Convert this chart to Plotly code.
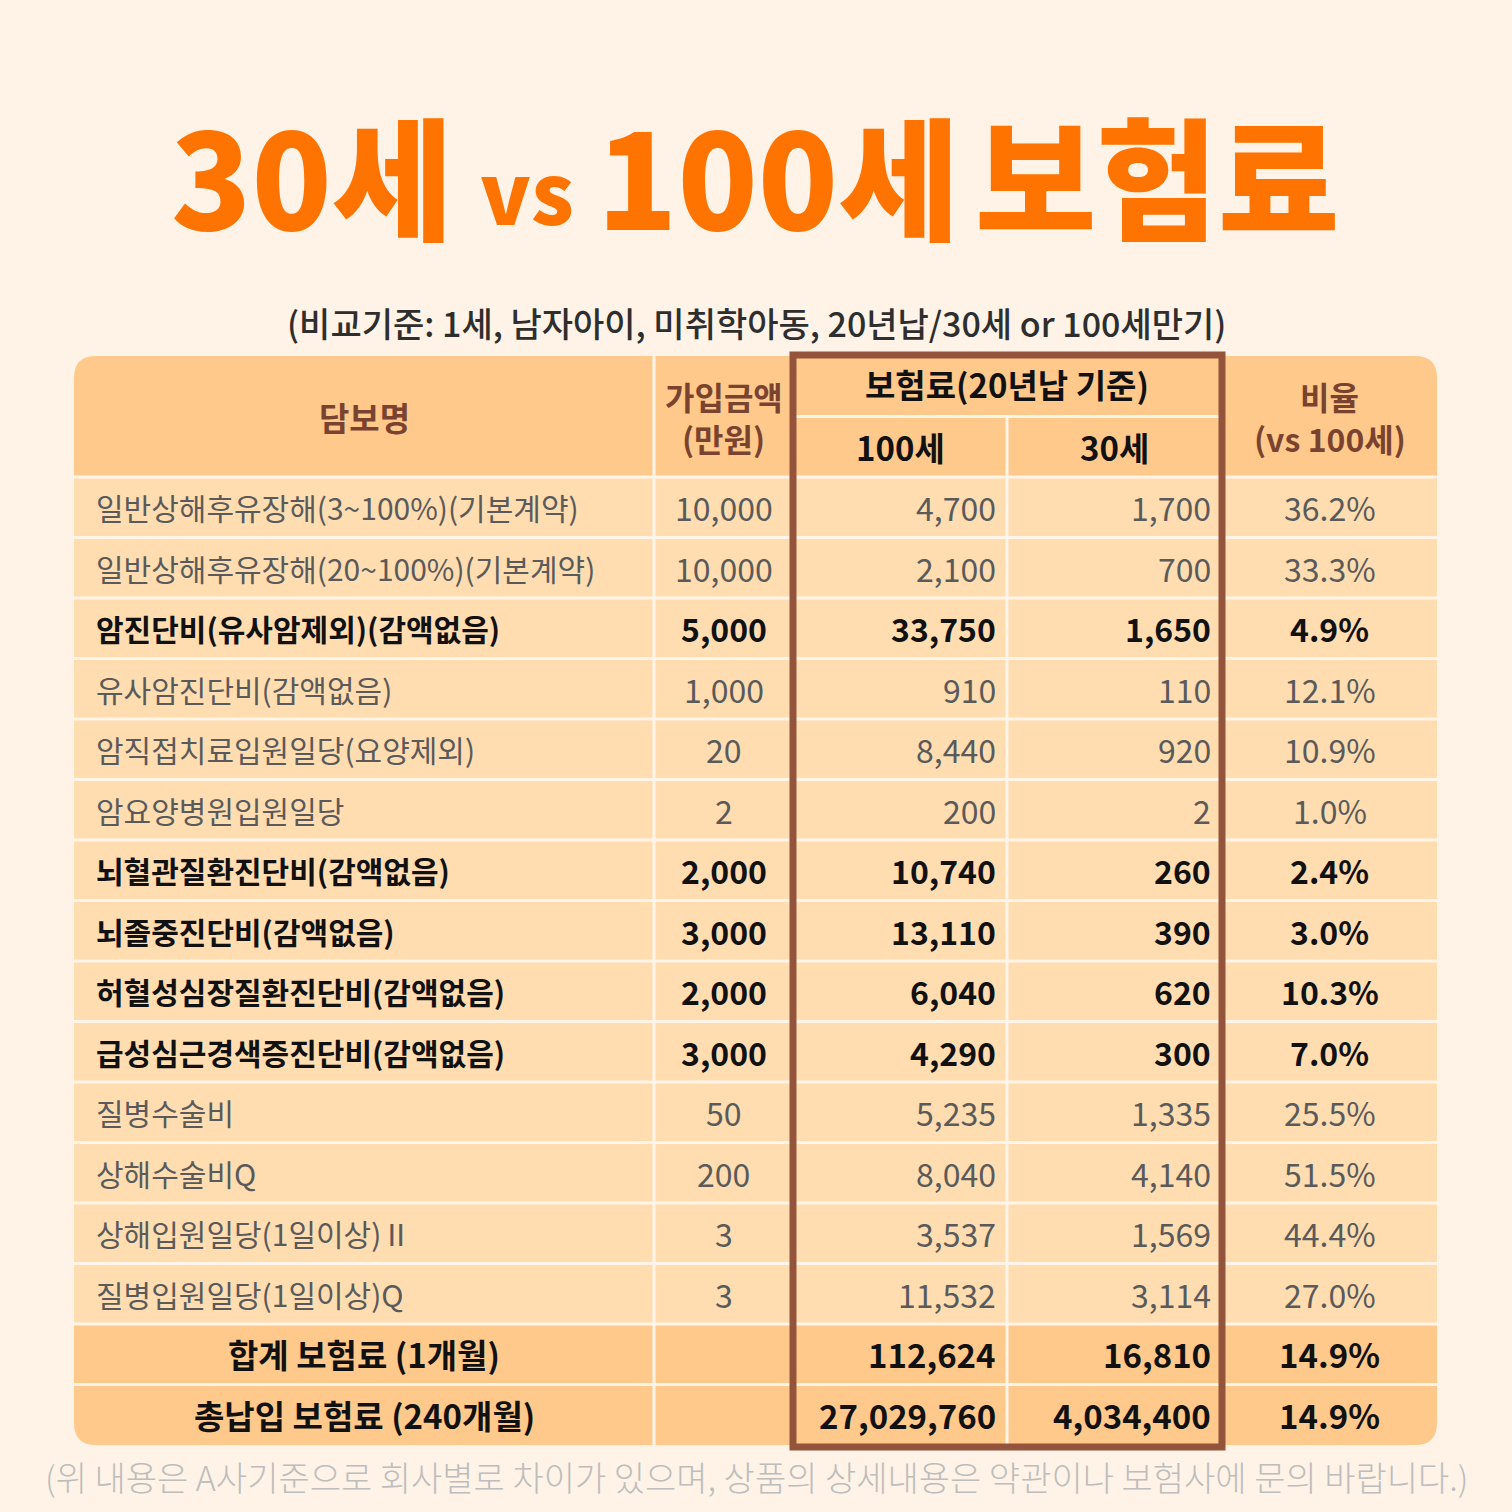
import plotly.graph_objects as go

# ---------------- data ----------------
title_parts = ["30세", "vs", "100세", "보험료"]
subtitle = "(비교기준: 1세, 남자아이, 미취학아동, 20년납/30세 or 100세만기)"
footnote = "(위 내용은 A사기준으로 회사별로 차이가 있으며, 상품의 상세내용은 약관이나 보험사에 문의 바랍니다.)"

col_headers = [["담보명"], ["가입금액", "(만원)"], ["보험료(20년납 기준)"], ["비율", "(vs 100세)"]]
sub_headers = ["100세", "30세"]

coverage_names = [
    "일반상해후유장해(3~100%)(기본계약)",
    "일반상해후유장해(20~100%)(기본계약)",
    "암진단비(유사암제외)(감액없음)",
    "유사암진단비(감액없음)",
    "암직접치료입원일당(요양제외)",
    "암요양병원입원일당",
    "뇌혈관질환진단비(감액없음)",
    "뇌졸중진단비(감액없음)",
    "허혈성심장질환진단비(감액없음)",
    "급성심근경색증진단비(감액없음)",
    "질병수술비",
    "상해수술비Q",
    "상해입원일당(1일이상)Ⅱ",
    "질병입원일당(1일이상)Q",
]
sum_insured = [10000, 10000, 5000, 1000, 20, 2, 2000, 3000, 2000, 3000, 50, 200, 3, 3]
premium_100 = [4700, 2100, 33750, 910, 8440, 200, 10740, 13110, 6040, 4290, 5235, 8040, 3537, 11532]
premium_30 = [1700, 700, 1650, 110, 920, 2, 260, 390, 620, 300, 1335, 4140, 1569, 3114]
ratio_pct = [36.2, 33.3, 4.9, 12.1, 10.9, 1.0, 2.4, 3.0, 10.3, 7.0, 25.5, 51.5, 44.4, 27.0]
emphasized_rows = [2, 6, 7, 8, 9]

total_labels = ["합계 보험료 (1개월)", "총납입 보험료 (240개월)"]
total_100 = [112624, 27029760]
total_30 = [16810, 4034400]
total_ratio = [14.9, 14.9]

# ---------------- geometry / style ----------------
BG = "#FEF3E6"
HEAD = "#FFC98B"
BODY = "#FFDDB1"
GRID = "#FFF4E8"
BROWN = "#94543B"
ORANGE = "#FF7300"
FONT = "Noto Sans CJK KR"

col_edges = [74, 654, 793, 1007, 1222, 1437]
top = 356
n_body = len(coverage_names)
n_total = len(total_labels)
bottom = 1445
row_h = (bottom - top) / (n_body + n_total + 2)
head_bot = top + 2 * row_h

def row_y(i):
    return head_bot + row_h * i

fig = go.Figure()
shapes = []
ann = []

# rounded table background
r = 22
x0, x1, y0, y1 = col_edges[0], col_edges[-1], top, bottom
path = (f"M {x0+r},{y0} L {x1-r},{y0} Q {x1},{y0} {x1},{y0+r} "
        f"L {x1},{y1-r} Q {x1},{y1} {x1-r},{y1} L {x0+r},{y1} "
        f"Q {x0},{y1} {x0},{y1-r} L {x0},{y0+r} Q {x0},{y0} {x0+r},{y0} Z")
shapes.append(dict(type="path", path=path, xref="x", yref="y", fillcolor=HEAD, line=dict(width=0), layer="below"))
shapes.append(dict(type="rect", xref="x", yref="y", x0=x0, x1=x1, y0=head_bot, y1=row_y(n_body),
                   fillcolor=BODY, line=dict(width=0), layer="below"))

for i in range(n_body + n_total):
    yy = row_y(i)
    shapes.append(dict(type="line", xref="x", yref="y", x0=x0, x1=x1, y0=yy, y1=yy,
                       line=dict(color=GRID, width=3)))
shapes.append(dict(type="line", xref="x", yref="y", x0=col_edges[2], x1=col_edges[4],
                   y0=top + row_h, y1=top + row_h, line=dict(color=GRID, width=3)))
for k in [1, 2, 4]:
    shapes.append(dict(type="line", xref="x", yref="y", x0=col_edges[k], x1=col_edges[k],
                       y0=top, y1=bottom, line=dict(color=GRID, width=3)))
shapes.append(dict(type="line", xref="x", yref="y", x0=col_edges[3], x1=col_edges[3],
                   y0=top + row_h, y1=bottom, line=dict(color=GRID, width=3)))

shapes.append(dict(type="rect", xref="x", yref="y", x0=col_edges[2], x1=col_edges[4],
                   y0=top - 1, y1=bottom + 2, line=dict(color=BROWN, width=7), fillcolor="rgba(0,0,0,0)"))

def A(x, y, text, size, color, weight=400, xanchor="center"):
    ann.append(dict(x=x, y=y, xref="x", yref="y", text=text, showarrow=False,
                    xanchor=xanchor, yanchor="middle",
                    font=dict(family=FONT, size=size, color=color, weight=weight)))

cc = [(col_edges[i] + col_edges[i + 1]) / 2 for i in range(5)]

# title
title_x = [312, 527, 778, 1157]
title_sz = [132, 84, 132, 132]
title_y = [172, 188, 172, 172]
for t, x, s, y in zip(title_parts, title_x, title_sz, title_y):
    A(x, y, t, s, ORANGE, 900)

A(756, 322, subtitle, 34, "#2E2E2E", 500)
A(757, 1476, footnote, 34, "#BDBDBD", 300)

# headers
BR_T = "#7A4330"
BLK = "#111111"
HS = 33
A(cc[0], top + row_h, col_headers[0][0], HS, BR_T, 700)
A(cc[1], top + row_h - 21, col_headers[1][0], 32, BR_T, 700)
A(cc[1], top + row_h + 21, col_headers[1][1], 32, BR_T, 700)
A((cc[2] + cc[3]) / 2, top + row_h / 2 - 2, col_headers[2][0], HS, BLK, 700)
A(cc[2], top + 1.5 * row_h, sub_headers[0], HS, BLK, 700)
A(cc[3], top + 1.5 * row_h, sub_headers[1], HS, BLK, 700)
A(cc[4], top + row_h - 21, col_headers[3][0], 32, BR_T, 700)
A(cc[4], top + row_h + 21, col_headers[3][1], 32, BR_T, 700)

# body rows
for i in range(n_body):
    yc = row_y(i) + row_h / 2
    bold = i in emphasized_rows
    color = BLK if bold else "#5A5A5A"
    w = 700 if bold else 400
    A(col_edges[0] + 20, yc, coverage_names[i], 30, color, w, "left")
    A(cc[1], yc, f"{sum_insured[i]:,}", 32, color, w)
    A(col_edges[3] - 9, yc, f"{premium_100[i]:,}", 32, color, w, "right")
    A(col_edges[4] - 9, yc, f"{premium_30[i]:,}", 32, color, w, "right")
    A(cc[4], yc, f"{ratio_pct[i]:.1f}%", 32, color, w)

for j in range(n_total):
    yc = row_y(n_body + j) + row_h / 2
    A(cc[0], yc, total_labels[j], 33, BLK, 700)
    A(col_edges[3] - 9, yc, f"{total_100[j]:,}", 33, BLK, 700, "right")
    A(col_edges[4] - 9, yc, f"{total_30[j]:,}", 33, BLK, 700, "right")
    A(cc[4], yc, f"{total_ratio[j]:.1f}%", 33, BLK, 700)

fig.update_layout(
    width=1512, height=1512,
    margin=dict(l=0, r=0, t=0, b=0),
    paper_bgcolor=BG, plot_bgcolor=BG,
    xaxis=dict(range=[0, 1512], visible=False, fixedrange=True),
    yaxis=dict(range=[1512, 0], visible=False, fixedrange=True),
    shapes=shapes, annotations=ann, showlegend=False,
)
fig.write_html("out.html", config={"displayModeBar": False},
               post_script="document.body.style.margin='0';document.body.style.background='" + BG + "';")
